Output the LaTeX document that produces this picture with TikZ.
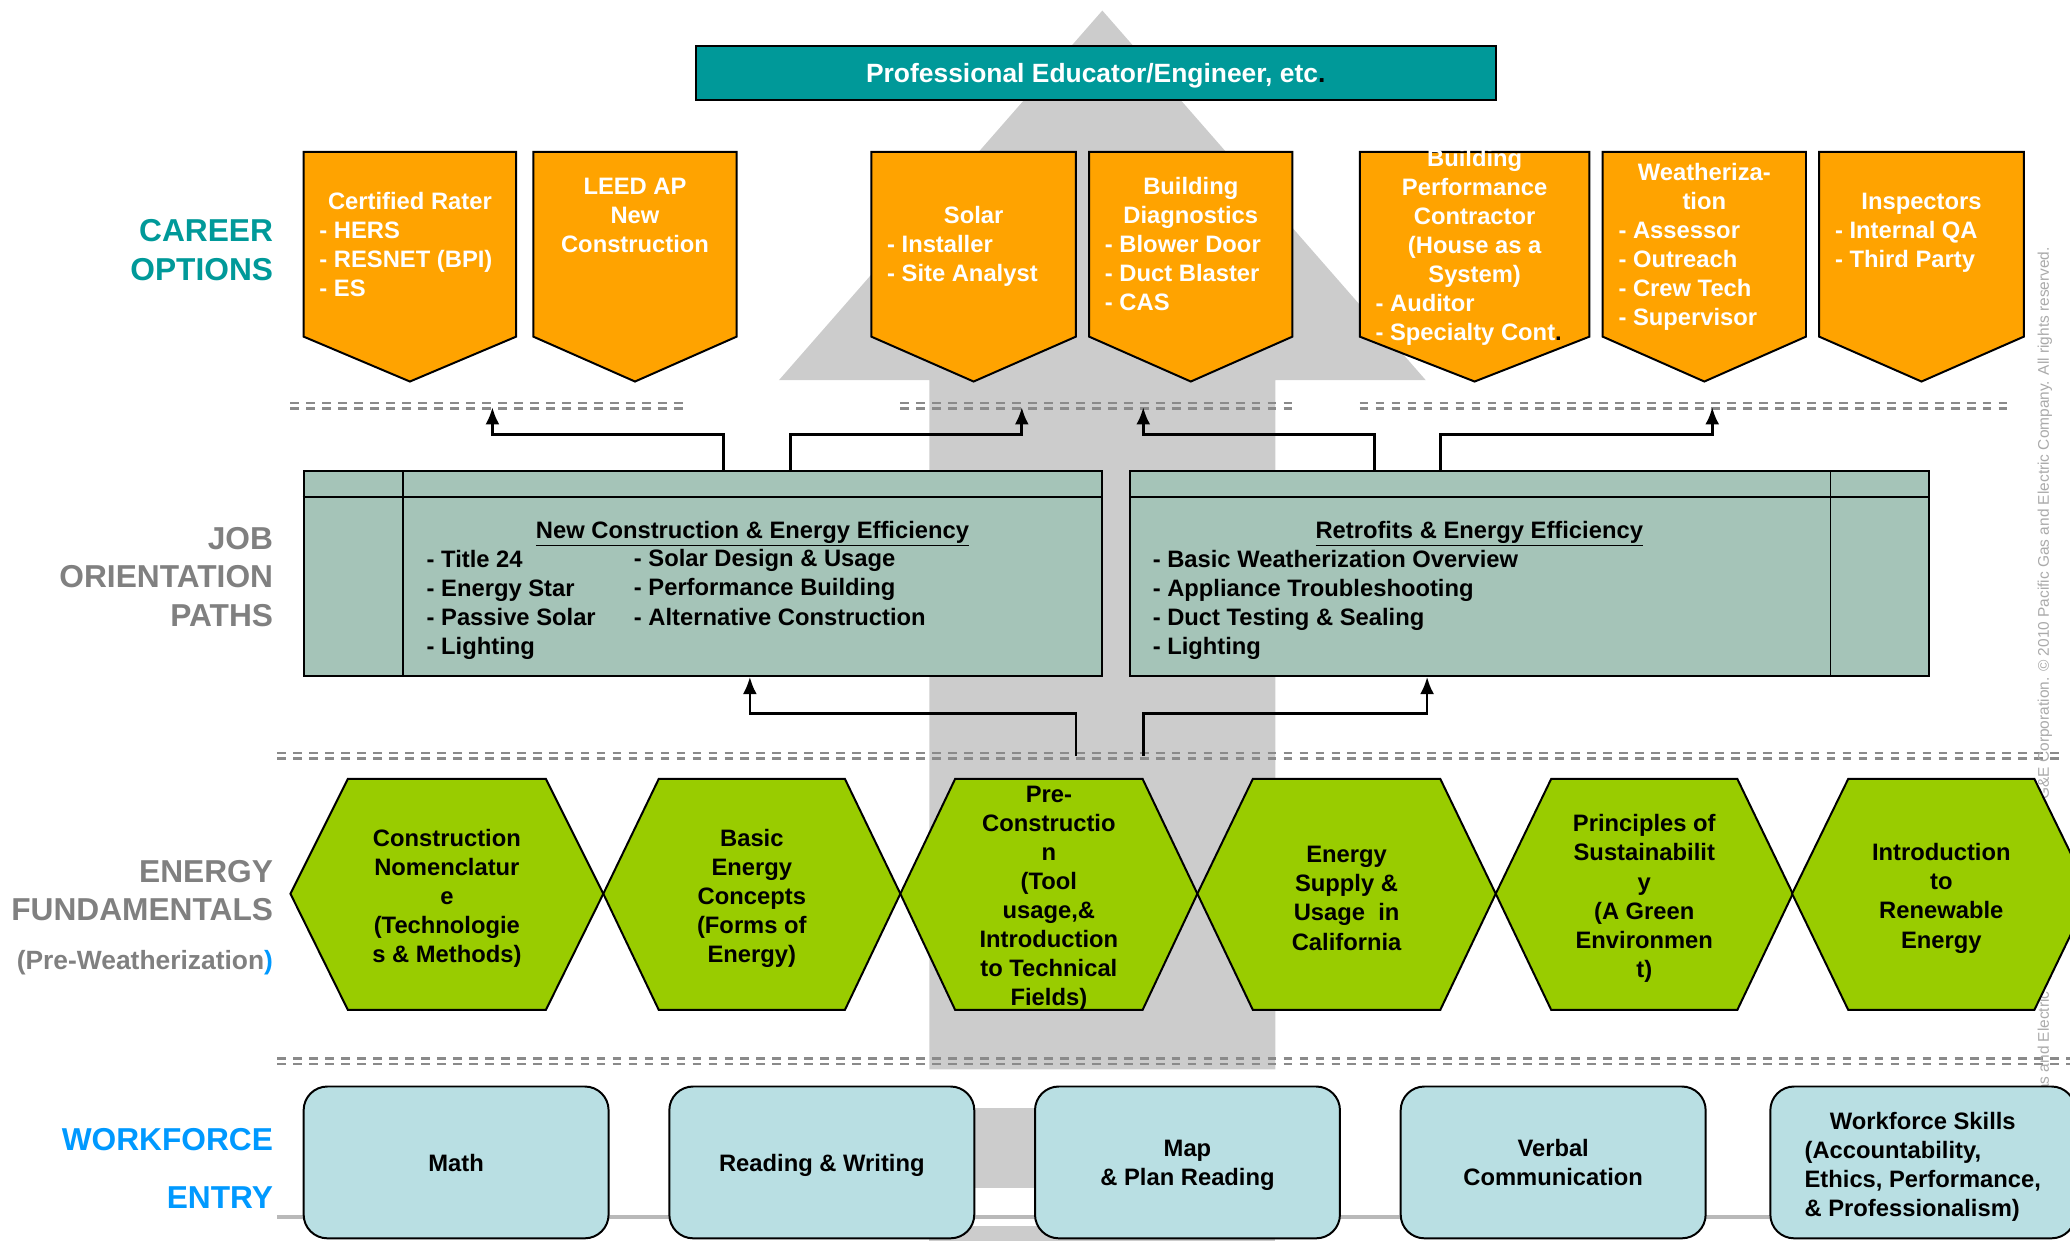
\documentclass[tikz,border=0pt]{standalone}
\usepackage{fontspec}
\setmainfont{Liberation Sans}
\usepackage{array}
\usetikzlibrary{arrows.meta, positioning}
\definecolor{profteal}{RGB}{0, 153, 153}
\definecolor{careerorange}{RGB}{255, 163, 0}
\definecolor{pathgreen}{RGB}{165, 196, 184}
\definecolor{fundgreen}{RGB}{153, 204, 0}
\definecolor{entryblue}{RGB}{185, 223, 227}
\definecolor{labelgray}{RGB}{128, 128, 128}
\definecolor{entrylabel}{RGB}{0, 153, 255}
\definecolor{shaftgray}{RGB}{204, 204, 204}
\definecolor{basegray}{RGB}{185, 185, 185}
\definecolor{dashgray}{RGB}{138, 138, 138}
\definecolor{notegray}{RGB}{170, 170, 170}
\newcommand{\hd}[1]{\multicolumn{1}{@{}c@{}}{#1}}

\begin{document}
\begin{tikzpicture}[
    x=1pt, y=-1pt,
    >={Latex[length=13pt, width=10.6pt]},
    every node/.style={inner sep=0pt, font=\fontsize{18}{22}\selectfont\bfseries},
    rowlabel/.style={anchor=east, align=right, font=\fontsize{24}{29}\selectfont\bfseries},
    career/.style={draw=black, fill=careerorange, line width=1.5pt},
    careertext/.style={text=white},
    pathbox/.style={draw=black, fill=pathgreen, line width=1.5pt, minimum width=605pt, minimum height=155pt},
    pathlist/.style={anchor=west, align=left},
    fund/.style={draw=black, fill=fundgreen, line width=1.5pt},
    fundtext/.style={align=center},
    entry/.style={draw=black, fill=entryblue, line width=1.5pt, rounded corners=18pt, minimum width=231pt, minimum height=115pt, text depth=0pt, align=center},
    sepline/.style={draw=dashgray, line width=2pt, dash pattern=on 6.6pt off 5.5pt},
    link/.style={->, line width=2pt}
]
\useasboundingbox (0,0) rectangle (1568,940);
\clip (0,0) rectangle (1568,940);

\fill[shaftgray] (835,8) -- (1080,288) -- (966,288) -- (966,810) -- (704,810) -- (704,288) -- (590,288) -- cycle;
\fill[shaftgray] (704,839) rectangle (966,900);
\fill[shaftgray] (704,929) rectangle (966,940);
\draw[draw=basegray, line width=3pt] (210,922) -- (1341,922);

\foreach \y/\xa/\xb in {305.3/220/517, 305.3/682/979, 305.3/1030/1522, 570.5/210/1560, 802/210/1568}
{
    \draw[sepline] (\xa,\y) -- (\xb,\y);
    \draw[sepline] (\xa,\y+4) -- (\xb,\y+4);
}

\node[rotate=90, anchor=east, text=notegray, font=\fontsize{11.7}{14}\selectfont] (notice) at (1549,187) {Pacific Gas and Electric Company, a subsidiary of PG\&E Corporation. \textcopyright{} 2010 Pacific Gas and Electric Company. All rights reserved.};

\node[draw=black, fill=profteal, line width=1.5pt, minimum width=606pt, minimum height=41pt, text depth=0pt, text=white, font=\fontsize{20}{22}\selectfont\bfseries] (prof) at (830,55.5) {Professional Educator/Engineer, etc\textcolor{black}{.}};

\node[rowlabel, text=profteal] (careerlbl) at (207,189.5) {CAREER\\OPTIONS};
\node[rowlabel, text=labelgray] (joblbl) at (207,437) {JOB\\ORIENTATION\\PATHS};
\node[rowlabel, text=labelgray] (fundlbl) at (207,674.5) {ENERGY\\FUNDAMENTALS};
\node[anchor=east, text=labelgray, font=\fontsize{20}{22}\selectfont\bfseries] (prelbl) at (207,729.5) {(Pre-Weatherization\textcolor{entrylabel}{)}};
\node[rowlabel, text=entrylabel, font=\fontsize{24}{44}\selectfont\bfseries] (entrylbl) at (207,885) {WORKFORCE\\ENTRY};

\foreach \xa/\xb in {230/391, 404/558, 660/815, 825/979, 1030/1204, 1214/1368, 1378/1533}
    \draw[career] (\xa,115) -- (\xb,115) -- (\xb,255) -- ({(\xa+\xb)/2},289) -- (\xa,255) -- cycle;

\node[careertext] (rater) at (310.5,187) {\begin{tabular}{@{}p{137pt}@{}}\hd{Certified Rater}\\- HERS\\- RESNET (BPI)\\- ES\end{tabular}};
\node[careertext, align=center] (leed) at (481,163) {LEED AP\\New\\Construction};
\node[careertext] (solar) at (737.5,187) {\begin{tabular}{@{}p{131pt}@{}}\hd{Solar}\\- Installer\\- Site Analyst\end{tabular}};
\node[careertext] (diag) at (902,187) {\begin{tabular}{@{}p{130pt}@{}}\hd{Building}\\\hd{Diagnostics}\\- Blower Door\\- Duct Blaster\\- CAS\end{tabular}};
\node[careertext] (perform) at (1117,187.5) {\begin{tabular}{@{}p{150pt}@{}}\hd{Building}\\\hd{Performance}\\\hd{Contractor}\\\hd{(House as a}\\\hd{System)}\\- Auditor\\- Specialty Cont\textcolor{black}{.}\end{tabular}};
\node[careertext] (weather) at (1291,187) {\begin{tabular}{@{}p{130pt}@{}}\hd{Weatheriza-}\\\hd{tion}\\- Assessor\\- Outreach\\- Crew Tech\\- Supervisor\end{tabular}};
\node[careertext] (inspect) at (1455.5,176) {\begin{tabular}{@{}p{131pt}@{}}\hd{Inspectors}\\- Internal QA\\- Third Party\end{tabular}};

\node[pathbox] (newcon) at (532.5,434.5) {};
\node[pathbox] (retro) at (1158.5,434.5) {};
\draw[line width=1.5pt] ([yshift=-20pt]newcon.north west) -- ([yshift=-20pt]newcon.north east);
\draw[line width=1pt] ([xshift=76pt]newcon.north west) -- ([xshift=76pt]newcon.south west);
\draw[line width=1.5pt] ([yshift=-20pt]retro.north west) -- ([yshift=-20pt]retro.north east);
\draw[line width=1pt] ([xshift=-75pt]retro.north east) -- ([xshift=-75pt]retro.south east);

\node (newconttl) at (570,404) {\underline{New Construction \& Energy Efficiency}};
\node[pathlist] (newconlist) at (323,458) {- Title 24\\- Energy Star\\- Passive Solar\\- Lighting};
\node[pathlist] (newconmore) at (480,445) {- Solar Design \& Usage\\- Performance Building\\- Alternative Construction};
\node (retrottl) at (1120.5,404) {\underline{Retrofits \& Energy Efficiency}};
\node[pathlist] (retrolist) at (873,458) {- Basic Weatherization Overview\\- Appliance Troubleshooting\\- Duct Testing \& Sealing\\- Lighting};

\coordinate (up1) at (373,308.5);
\coordinate (up2) at (774,308.5);
\coordinate (up3) at (866,308.5);
\coordinate (up4) at (1297,308.5);
\coordinate (dn1) at (815,572.5);
\coordinate (dn2) at (866,572.5);
\draw[link] ([xshift=15.5pt]newcon.north) -- ++(0,-27) -| (up1);
\draw[link] ([xshift=66.5pt]newcon.north) -- ++(0,-27) -| (up2);
\draw[link] ([xshift=-117.5pt]retro.north) -- ++(0,-27) -| (up3);
\draw[link] ([xshift=-67.5pt]retro.north) -- ++(0,-27) -| (up4);
\draw[link] (dn1) -- ++(0,-32) -| ([xshift=35.5pt]newcon.south);
\draw[link] (dn2) -- ++(0,-32) -| ([xshift=-77.5pt]retro.south);

\foreach \cx/\hw/\th in {338.5/118.5/75, 569.5/112.5/70.5, 794.5/112.5/71, 1020/113/71, 1245.5/112.5/70.5, 1470.5/113/70.5}
    \draw[fund] (\cx-\hw,677) -- (\cx-\th,590) -- (\cx+\th,590) -- (\cx+\hw,677) -- (\cx+\th,765) -- (\cx-\th,765) -- cycle;

\node[fundtext] (nomen) at (338.5,680.5) {Construction\\Nomenclatur\\e\\(Technologie\\s \& Methods)};
\node[fundtext] (basic) at (569.5,680.5) {Basic\\Energy\\Concepts\\(Forms of\\Energy)};
\node[fundtext] (precon) at (794.5,680.5) {Pre-\\Constructio\\n\\(Tool\\usage,\&\\Introduction\\to Technical\\Fields)};
\node[fundtext] (supply) at (1020,680.5) {Energy\\Supply \&\\Usage\ \ in\\California};
\node[fundtext] (sustain) at (1245.5,680.5) {Principles of\\Sustainabilit\\y\\(A Green\\Environmen\\t)};
\node[fundtext] (renew) at (1470.5,680.5) {Introduction\\to\\Renewable\\Energy};

\node[entry] (math) at (345.5,880.5) {Math};
\node[entry] (reading) at (622.5,880.5) {Reading \& Writing};
\node[entry] (mapread) at (899.5,880.5) {Map\\\& Plan Reading};
\node[entry] (verbal) at (1176.5,880.5) {Verbal\\Communication};
\node[entry] (skills) at (1456.5,880.5) {\begin{tabular}[b]{@{}l@{}}\hd{Workforce Skills}\\(Accountability,\\Ethics, Performance,\\\& Professionalism)\end{tabular}};
\end{tikzpicture}
\end{document}
